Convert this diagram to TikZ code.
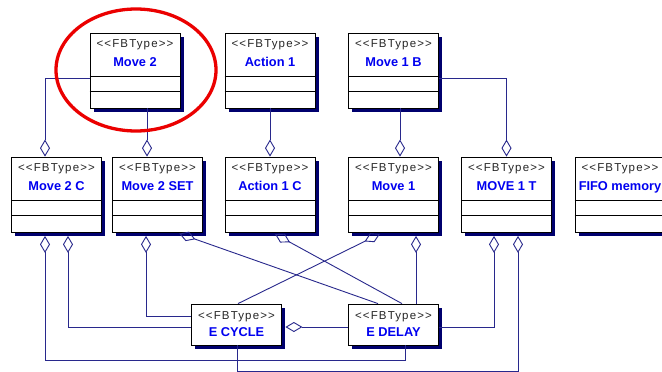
\documentclass[tikz,border=0pt]{standalone}
\usepackage{fontspec}
\usepackage{tikz}
\usetikzlibrary{arrows.meta,shadows}
\newfontfamily\stereofont[LetterSpace=10]{Liberation Sans}
\newfontfamily\namefont{Liberation Sans}
\definecolor{linkblue}{RGB}{40,40,140}
\definecolor{shadownavy}{RGB}{0,0,110}
\definecolor{nameblue}{RGB}{0,0,240}
\definecolor{ringred}{RGB}{235,0,0}

\begin{document}
\begin{tikzpicture}[x=1pt, y=-1pt,
		fb_box/.style={draw=black, fill=white, line width=0.8pt, inner sep=0pt,
			minimum width=90pt, minimum height=75pt,
			drop shadow={shadow xshift=3.5pt, shadow yshift=-3.5pt, fill=shadownavy, opacity=1}},
		ev_box/.style={fb_box, minimum height=41pt},
		stereo_style/.style={anchor=base, inner sep=0pt, text=black!85,
			font=\stereofont\fontsize{11.5}{13}\selectfont},
		name_style/.style={anchor=base, inner sep=0pt, text=nameblue,
			font=\namefont\bfseries\fontsize{12.8}{15}\selectfont},
		edge_style/.style={draw=linkblue, line width=0.9pt},
		agg_style/.style={edge_style, {Diamond[open,length=17pt,width=10pt]}-},
		agg_low/.style={agg_style, shorten <=3.5pt}]

		\fill[white] (0,0) rectangle (662,372);
		\clip (0,0) rectangle (662,372);

		% FB types with two compartments
		\foreach \id/\x/\y/\name in {move2/135/70.5/Move 2, action1/270/70.5/Action 1,
				move1b/393.5/70.5/Move 1 B, move2c/56.5/194.5/Move 2 C,
				move2set/157.5/194.5/Move 2 SET, action1c/270/194.5/Action 1 C,
				move1/393.5/194.5/Move 1, move1t/506.5/194.5/MOVE 1 T,
				fifo/620/194.5/FIFO memory} {
			\node[fb_box] (\id) at (\x,\y) {};
			\node[stereo_style] at ([yshift=-15pt]\id.north) {<{}<FBType>{}>};
			\node[name_style] at ([yshift=-33.5pt]\id.north) {\name};
			\draw[line width=0.8pt] ([yshift=-44pt]\id.north west) -- ([yshift=-44pt]\id.north east)
				([yshift=-59pt]\id.north west) -- ([yshift=-59pt]\id.north east);
		}

		% event blocks
		\foreach \id/\x/\name in {ecycle/236.5/E CYCLE, edelay/393.5/E DELAY} {
			\node[ev_box] (\id) at (\x,324.5) {};
			\node[stereo_style] at ([yshift=-16pt]\id.north) {<{}<FBType>{}>};
			\node[name_style] at ([yshift=-33pt]\id.north) {\name};
		}

		\draw[agg_style] (move2c.north -| 45,0) |- (move2.west |- 0,78);
		\draw[agg_style] (move2set.north -| 147,0) -- (move2.south -| 147,0);
		\draw[agg_style] (action1c.north) -- (action1.south);
		\draw[agg_style] (move1.north -| 400,0) -- (move1b.south -| 400,0);
		\draw[agg_style] (move1t.north) |- (move1b.east |- 0,78);

		\draw[agg_low] (move2c.south -| 45,0) -- (45,360) -| (edelay.south -| 405,0);
		\draw[agg_low] (move2c.south -| 68,0) |- (ecycle.west |- 0,327);
		\draw[agg_low] (move2set.south -| 146,0) |- (ecycle.west |- 0,316);
		\draw[agg_low] (move2set.south -| 176,0) -- (edelay.north -| 378,0);
		\draw[agg_low] (action1c.south -| 272,0) -- (edelay.north -| 402,0);
		\draw[agg_low] (move1.south -| 383,0) -- (ecycle.north -| 238,0);
		\draw[agg_low] (move1.south -| 416,0) -- (edelay.north -| 416,0);
		\draw[agg_low] (move1t.south -| 494,0) |- (edelay.east |- 0,327);
		\draw[agg_low] (move1t.south -| 518,0) -- (518,371) -| (ecycle.south -| 237,0);
		\draw[agg_low] (ecycle.east |- 0,327) -- (edelay.west |- 0,327);

		\draw[ringred, line width=3.3pt] (136,70) ellipse [x radius=80pt, y radius=61pt];

\end{tikzpicture}
\end{document}
